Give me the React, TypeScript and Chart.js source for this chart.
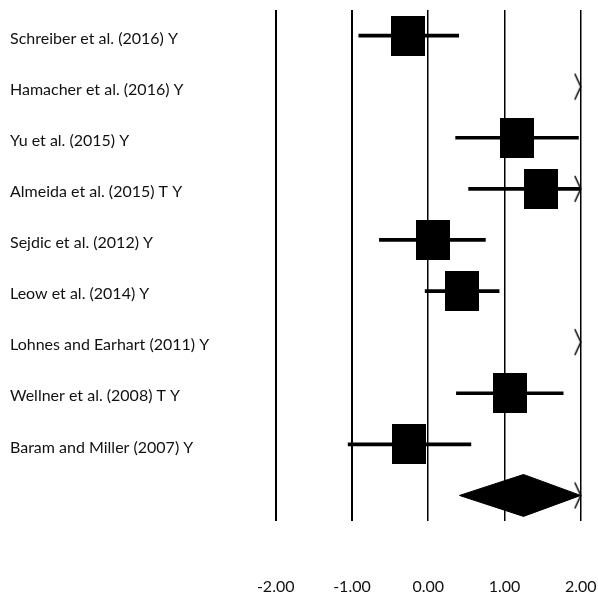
import React, { useEffect, useRef } from "react";
import { Chart, registerables } from "chart.js";

Chart.register(...registerables);

// ---- data ----
const studies = [
  "Schreiber et al. (2016) Y",
  "Hamacher et al. (2016) Y",
  "Yu et al. (2015) Y",
  "Almeida et al. (2015) T Y",
  "Sejdic et al. (2012) Y",
  "Leow et al. (2014) Y",
  "Lohnes and Earhart (2011) Y",
  "Wellner et al. (2008) T Y",
  "Baram and Miller (2007) Y",
];
const estimates = [-0.26, 3.2, 1.16, 1.48, 0.06, 0.44, 3.0, 1.07, -0.25];
const lowerCI = [-0.91, 2.4, 0.36, 0.53, -0.64, -0.04, 2.3, 0.37, -1.05];
const upperCI = [0.4, 4.0, 1.97, 2.45, 0.75, 0.93, 3.7, 1.77, 0.56];
const pooledEstimate = 1.25;
const pooledLower = 0.41;
const pooledUpper = 2.1;
const xTicks = [-2, -1, 0, 1, 2];

const X_MIN = -2;
const X_MAX = 2;
const FONT = "Lato";

function makeBox(): HTMLCanvasElement {
  const c = document.createElement("canvas");
  c.width = 34;
  c.height = 40;
  const g = c.getContext("2d")!;
  g.fillStyle = "#000";
  g.fillRect(0, 0, 34, 40);
  return c;
}

function makeArrow(): HTMLCanvasElement {
  const c = document.createElement("canvas");
  c.width = 14;
  c.height = 28;
  const g = c.getContext("2d")!;
  g.strokeStyle = "#000";
  g.lineWidth = 1.5;
  g.beginPath();
  g.moveTo(1, 1);
  g.lineTo(7, 14);
  g.lineTo(1, 27);
  g.stroke();
  return c;
}

export default function App() {
  const ref = useRef<HTMLCanvasElement>(null);

  useEffect(() => {
    if (!ref.current) return;
    const rows = studies.map((_, i) => i + 1);
    const pooledRow = studies.length + 1;
    const diamondHalf = 0.41;

    const ciData = rows.map((r, i) => ({ x: [lowerCI[i], upperCI[i]], y: r }));
    const boxData = rows.map((r, i) => ({ x: estimates[i], y: r }));
    const arrowData: { x: number; y: number }[] = [];
    rows.forEach((r, i) => {
      if (upperCI[i] > X_MAX) arrowData.push({ x: X_MAX, y: r });
    });
    if (pooledUpper > X_MAX) arrowData.push({ x: X_MAX, y: pooledRow });
    const right = Math.min(pooledUpper, X_MAX);
    const diamondData = [
      { x: pooledLower, y: pooledRow },
      { x: pooledEstimate, y: pooledRow - diamondHalf },
      { x: right, y: pooledRow },
      { x: pooledEstimate, y: pooledRow + diamondHalf },
      { x: pooledLower, y: pooledRow },
    ];

    const chart = new Chart(ref.current, {
      type: "scatter",
      data: {
        datasets: [
          {
            type: "bar",
            indexAxis: "y",
            data: ciData as any,
            backgroundColor: "#000",
            borderWidth: 0,
            barThickness: 3,
          } as any,
          {
            type: "line",
            data: diamondData,
            borderColor: "#000",
            backgroundColor: "#000",
            borderWidth: 1,
            pointRadius: 0,
            fill: "shape",
            tension: 0,
          } as any,
          {
            type: "scatter",
            data: boxData,
            pointStyle: makeBox(),
            clip: false,
          } as any,
          {
            type: "scatter",
            data: arrowData,
            pointStyle: makeArrow(),
            clip: false,
          } as any,
        ],
      },
      options: {
        animation: false,
        responsive: true,
        maintainAspectRatio: false,
        layout: { padding: { left: 10, top: 10, right: 17.3, bottom: 0 } },
        plugins: { legend: { display: false }, tooltip: { enabled: false } },
        scales: {
          x: {
            type: "linear",
            offset: false,
            min: X_MIN,
            max: X_MAX,
            afterBuildTicks: (s: any) => {
              s.ticks = xTicks.map((v) => ({ value: v }));
            },
            afterFit: (s: any) => {
              s.height = 76;
              s.paddingLeft = 0;
              s.paddingRight = 0;
            },
            ticks: {
              padding: 56,
              color: "#111",
              font: { family: FONT, size: 16 },
              callback: (v: any) => Number(v).toFixed(2),
            },
            grid: {
              offset: false,
              color: "#000",
              lineWidth: (c: any) => (c.tick && c.tick.value < 0 ? 2 : 1.5),
              drawTicks: false,
            },
            border: { display: false },
          },
          y: {
            type: "linear",
            offset: false,
            reverse: true,
            min: 0.5,
            max: studies.length + 1.5,
            afterBuildTicks: (s: any) => {
              s.ticks = rows.map((v) => ({ value: v }));
            },
            afterFit: (s: any) => {
              s.width = 265.7;
              s.paddingTop = 0;
              s.paddingBottom = 0;
            },
            ticks: {
              crossAlign: "far",
              labelOffset: 3,
              color: "#111",
              font: { family: FONT, size: 16 },
              callback: (v: any) => studies[Number(v) - 1] ?? "",
            },
            grid: { display: false, offset: false },
            border: { display: false },
          },
        },
      },
    } as any);
    return () => chart.destroy();
  }, []);

  return (
    <div style={{ position: "fixed", left: 0, top: 0, width: 598, height: 597, background: "#fff" }}>
      <canvas ref={ref} />
    </div>
  );
}
